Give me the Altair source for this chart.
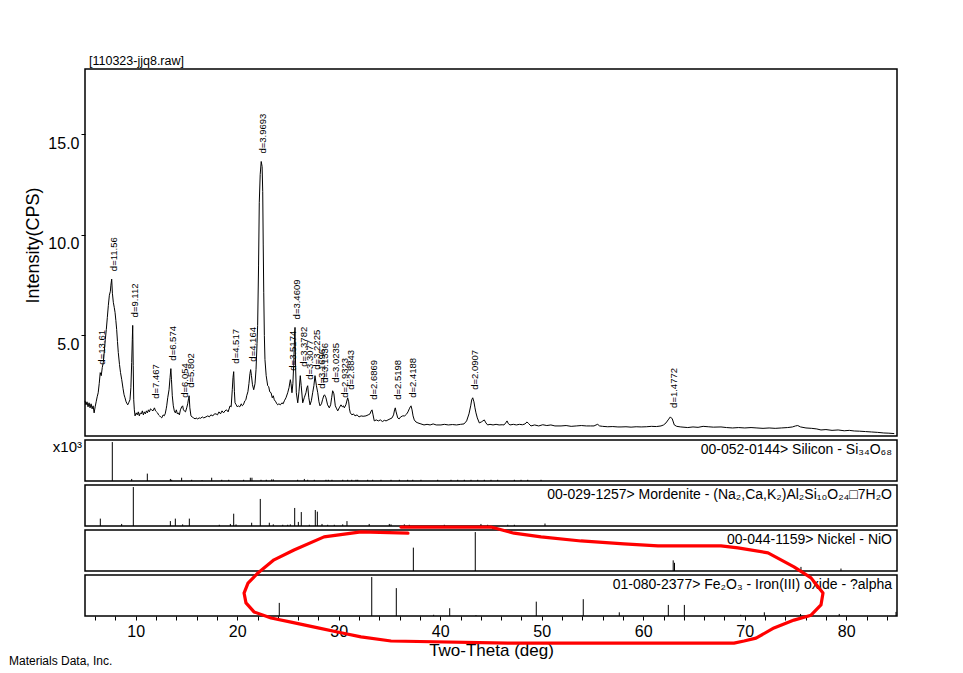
import altair as alt
import pandas as pd

# ---------------- data ----------------
two_theta = [
    5.00, 5.10, 5.20, 5.30, 5.40, 5.50, 5.60, 5.70, 5.80, 5.90, 6.00, 6.10, 6.20, 6.30, 6.40, 6.50,
    6.60, 6.70, 6.80, 6.90, 7.00, 7.10, 7.20, 7.30, 7.40, 7.50, 7.55, 7.63, 7.70, 7.79, 7.88, 7.96,
    8.04, 8.12, 8.20, 8.28, 8.40, 8.50, 8.62, 8.75, 8.85, 8.94, 9.05, 9.15, 9.21, 9.30, 9.43, 9.52,
    9.60, 9.66, 9.70, 9.75, 9.80, 9.86, 9.93, 10.05, 10.15, 10.25, 10.35, 10.45, 10.55, 10.65, 10.75,
    10.85, 10.95, 11.05, 11.15, 11.25, 11.35, 11.45, 11.57, 11.70, 11.84, 11.95, 12.05, 12.15, 12.25,
    12.35, 12.45, 12.56, 12.70, 12.80, 12.90, 13.00, 13.05, 13.15, 13.28, 13.38, 13.46, 13.52, 13.60,
    13.70, 13.80, 13.90, 14.00, 14.10, 14.19, 14.30, 14.40, 14.53, 14.62, 14.70, 14.78, 14.90, 15.02,
    15.12, 15.20, 15.26, 15.33, 15.44, 15.55, 15.70, 15.85, 15.94, 16.10, 16.25, 16.40, 16.55, 16.70,
    16.92, 17.10, 17.25, 17.40, 17.60, 17.75, 17.91, 18.05, 18.20, 18.35, 18.50, 18.65, 18.79, 18.95,
    19.10, 19.29, 19.40, 19.51, 19.58, 19.65, 19.72, 19.78, 19.90, 20.00, 20.10, 20.25, 20.40, 20.50,
    20.60, 20.75, 20.85, 20.93, 21.05, 21.15, 21.25, 21.32, 21.40, 21.50, 21.62, 21.75, 21.85, 21.95,
    22.01, 22.10, 22.17, 22.26, 22.36, 22.45, 22.51, 22.56, 22.61, 22.67, 22.73, 22.85, 23.00, 23.10,
    23.20, 23.33, 23.45, 23.55, 23.65, 23.80, 23.90, 23.99, 24.10, 24.25, 24.40, 24.52, 24.64, 24.80,
    24.97, 25.10, 25.23, 25.30, 25.39, 25.48, 25.56, 25.64, 25.69, 25.75, 25.82, 25.96, 26.08, 26.21,
    26.30, 26.45, 26.60, 26.77, 26.86, 26.94, 27.05, 27.17, 27.30, 27.43, 27.55, 27.66, 27.80, 27.93,
    28.05, 28.15, 28.30, 28.40, 28.52, 28.60, 28.74, 28.90, 29.07, 29.20, 29.30, 29.40, 29.52, 29.66,
    29.80, 29.90, 30.05, 30.22, 30.35, 30.46, 30.55, 30.70, 30.88, 30.98, 31.05, 31.14, 31.30, 31.45,
    31.60, 31.80, 32.00, 32.20, 32.40, 32.68, 32.90, 33.08, 33.20, 33.28, 33.38, 33.50, 33.70, 33.90,
    34.10, 34.30, 34.50, 34.66, 34.85, 35.05, 35.25, 35.40, 35.50, 35.57, 35.65, 35.81, 35.95, 36.10,
    36.30, 36.50, 36.70, 36.82, 36.95, 37.05, 37.12, 37.22, 37.32, 37.44, 37.60, 37.80, 38.10, 38.40,
    38.70, 39.00, 39.30, 39.60, 40.07, 40.40, 40.80, 41.20, 41.60, 42.00, 42.34, 42.60, 42.83, 43.00,
    43.10, 43.20, 43.32, 43.42, 43.52, 43.65, 43.85, 44.05, 44.20, 44.34, 44.50, 44.67, 44.90, 45.20,
    45.50, 45.80, 46.10, 46.28, 46.45, 46.58, 46.70, 46.87, 47.20, 47.50, 47.80, 48.10, 48.35, 48.55,
    48.70, 48.94, 49.30, 49.70, 50.10, 50.50, 50.90, 51.30, 51.90, 52.40, 52.90, 53.40, 53.90, 54.40,
    54.80, 55.15, 55.35, 55.51, 55.70, 56.00, 56.50, 57.00, 57.50, 57.81, 58.30, 58.80, 59.30, 59.80,
    60.30, 60.80, 61.30, 61.75, 62.00, 62.24, 62.45, 62.67, 62.86, 63.06, 63.30, 63.70, 64.38, 64.90,
    65.40, 65.90, 66.40, 66.90, 67.66, 68.20, 68.80, 69.40, 70.00, 70.62, 71.20, 71.80, 72.40, 73.00,
    73.60, 74.23, 74.70, 75.00, 75.22, 75.50, 76.03, 76.60, 77.10, 77.51, 78.00, 78.60, 79.20, 79.80,
    80.30, 80.79, 81.30, 81.90, 82.50, 83.10, 83.70, 84.20, 84.73,
]
intensity = [
    1.75, 1.55, 1.70, 1.45, 1.65, 1.40, 1.60, 1.35, 1.50, 1.15, 1.45, 1.70, 1.95, 2.15, 2.60, 3.15,
    3.00, 3.40, 3.65, 4.20, 4.80, 5.30, 5.90, 6.50, 7.00, 7.20, 7.50, 7.80, 7.10, 6.65, 6.40, 6.15,
    5.75, 5.30, 4.70, 4.15, 3.55, 3.15, 2.80, 2.35, 2.05, 1.90, 1.70, 1.60, 1.55, 1.65, 1.80, 2.40,
    3.65, 4.80, 5.50, 3.50, 1.80, 1.30, 1.00, 1.15, 1.05, 1.20, 1.00, 1.15, 1.10, 1.25, 1.05,
    1.20, 1.10, 1.25, 1.15, 1.30, 1.20, 1.35, 1.30, 1.25, 1.40, 1.25, 1.20, 1.15, 1.05,
    1.00, 0.95, 0.90, 1.05, 1.00, 1.10, 1.35, 1.50, 1.90, 2.30, 2.90, 3.35, 2.80, 2.00,
    1.50, 1.25, 1.15, 1.30, 1.10, 1.15, 1.05, 1.30, 1.45, 1.50, 1.30, 1.25, 1.20, 1.40,
    1.60, 1.85, 2.00, 1.40, 1.00, 0.95, 0.90, 0.85, 0.90, 0.85, 0.90, 0.88, 0.95, 0.90,
    0.95, 1.00, 0.95, 1.05, 1.00, 1.10, 1.10, 1.05, 1.20, 1.10, 1.25, 1.15, 1.25, 1.30,
    1.20, 1.50, 1.45, 2.30, 2.90, 3.20, 2.20, 1.65, 1.55, 1.45, 1.50, 1.45, 1.60, 1.50,
    1.55, 1.75, 1.80, 2.00, 2.20, 2.60, 3.10, 3.30, 3.00, 2.55, 2.30, 2.60, 3.30, 4.60,
    5.50, 8.50, 11.60, 13.00, 13.65, 13.40, 12.15, 9.50, 7.15, 5.00, 3.80, 3.00, 2.50, 2.45,
    2.20, 2.15, 1.90, 2.00, 1.80, 1.70, 1.60, 1.55, 1.60, 1.55, 1.65, 1.60, 1.75, 1.90,
    2.15, 2.40, 2.80, 2.60, 2.15, 2.60, 3.50, 4.80, 5.40, 3.40, 2.15, 1.65, 2.20, 3.00,
    2.50, 1.65, 1.90, 2.15, 2.40, 2.50, 1.90, 1.55, 1.75, 2.15, 2.50, 3.00, 2.50, 2.15,
    1.70, 1.50, 1.60, 1.80, 2.00, 2.05, 1.90, 1.55, 1.40, 1.55, 1.90, 2.25, 2.10, 1.50,
    1.35, 1.25, 1.40, 1.55, 1.45, 1.50, 1.40, 1.55, 1.90, 1.70, 1.35, 1.15, 1.05, 1.10,
    1.00, 1.05, 0.95, 1.00, 0.98, 1.00, 1.05, 1.10, 1.25, 1.30, 1.05, 0.75, 0.80, 0.75,
    0.80, 0.72, 0.78, 0.75, 0.80, 0.85, 0.90, 1.05, 1.30, 1.40, 1.20, 0.90, 0.85, 0.95,
    1.00, 1.00, 1.10, 1.20, 1.35, 1.45, 1.50, 1.30, 1.00, 0.80, 0.70, 0.65, 0.60, 0.55,
    0.58, 0.55, 0.60, 0.55, 0.55, 0.58, 0.55, 0.57, 0.55, 0.58, 0.60, 0.75, 1.10, 1.50,
    1.80, 1.90, 1.70, 1.40, 1.15, 0.90, 0.65, 0.70, 0.75, 0.80, 0.65, 0.55, 0.58, 0.55,
    0.58, 0.55, 0.56, 0.55, 0.65, 0.75, 0.62, 0.55, 0.58, 0.55, 0.58, 0.56, 0.60, 0.70,
    0.62, 0.50, 0.55, 0.50, 0.56, 0.52, 0.55, 0.50, 0.50, 0.52, 0.48, 0.50, 0.52, 0.50,
    0.50, 0.50, 0.55, 0.58, 0.50, 0.48, 0.46, 0.47, 0.45, 0.45, 0.46, 0.44, 0.46, 0.45,
    0.46, 0.48, 0.47, 0.50, 0.55, 0.65, 0.80, 0.95, 0.85, 0.55, 0.48, 0.45, 0.42, 0.45,
    0.43, 0.48, 0.46, 0.44, 0.45, 0.42, 0.40, 0.42, 0.40, 0.42, 0.40, 0.38, 0.40, 0.38,
    0.40, 0.42, 0.45, 0.50, 0.52, 0.45, 0.40, 0.38, 0.35, 0.30, 0.32, 0.28, 0.30, 0.26,
    0.28, 0.25, 0.24, 0.22, 0.20, 0.18, 0.15, 0.14, 0.12,
]

peak_tt = [6.49, 7.64, 9.70, 11.84, 13.46, 14.62, 15.26, 19.64, 21.32, 22.38, 25.30, 25.72, 26.36,
           26.93, 27.66, 28.13, 28.46, 29.52, 30.46, 30.98, 33.32, 35.60, 37.14, 43.24, 62.86]
peak_h = [3.15, 7.8, 5.5, 1.45, 3.35, 1.5, 2.0, 3.2, 3.3, 13.65, 2.85, 5.4, 3.05,
          2.4, 2.9, 1.95, 2.25, 2.25, 1.5, 1.9, 1.4, 1.4, 1.5, 1.9, 1.0]
peak_labels = ["d=13.61", "d=11.56", "d=9.112", "d=7.467", "d=6.574", "d=6.054", "d=5.802",
               "d=4.517", "d=4.164", "d=3.9693", "d=3.5174", "d=3.4609", "d=3.3782",
               "d=3.3077", "d=3.2225", "d=3.1696", "d=3.1336", "d=3.0235", "d=2.9323",
               "d=2.8843", "d=2.6869", "d=2.5198", "d=2.4188", "d=2.0907", "d=1.4772"]

si_tt = [7.69, 9.60, 11.14, 13.41, 13.54, 14.52, 15.51, 16.53, 17.48, 18.47, 19.16, 20.63, 21.29,
         21.45, 22.34, 22.86, 23.39, 23.55, 25.95, 26.61, 26.94, 27.59, 28.74, 28.97, 29.33, 30.39,
         30.88, 31.28, 31.70, 31.87, 32.85, 33.34, 34.16, 35.15, 35.97, 36.79, 37.29, 38.10, 39.75,
         41.06, 41.72, 42.37, 43.03, 43.69, 44.34, 45.00, 45.66, 47.30, 47.96, 48.62, 49.93]
si_rel = [95, 5, 18, 5, 3, 8, 3, 2, 8, 3, 3, 3, 8,
          8, 3, 3, 4, 4, 3, 5, 3, 3, 3, 3, 3, 3,
          3, 3, 3, 3, 3, 3, 3, 3, 3, 3, 3, 3, 3,
          3, 3, 3, 3, 3, 3, 3, 3, 3, 3, 3, 3]

mor_tt = [6.51, 8.61, 9.76, 13.41, 13.90, 14.62, 15.28, 18.23, 19.32, 19.65, 19.88, 21.42, 22.27,
          23.16, 23.55, 24.48, 24.97, 25.23, 25.66, 26.02, 26.31, 27.10, 27.69, 27.89, 28.35, 28.91,
          29.56, 30.39, 30.81, 33.00, 34.98, 35.15, 36.46, 36.95, 40.40, 44.01, 44.67, 46.65, 47.30,
          50.32]
mor_rel = [18, 5, 95, 12, 18, 4, 18, 3, 5, 30, 4, 8, 66,
           8, 4, 3, 3, 4, 44, 10, 34, 3, 39, 35, 5, 3,
           3, 4, 12, 5, 5, 4, 4, 3, 3, 5, 3, 3, 3,
           6]

ni_tt = [37.35, 43.45, 62.95, 63.08, 75.54, 79.48]
ni_rel = [57, 95, 26, 20, 10, 6]

fe_tt = [24.14, 33.25, 35.67, 39.35, 40.93, 43.52, 49.46, 54.09, 57.64, 62.47, 64.05, 69.6, 71.93,
         75.5, 79.31, 84.9]
fe_rel = [32, 95, 68, 3, 19, 2, 35, 41, 9, 27, 27, 3, 9, 5, 5, 10]

# hand-drawn red highlight, in (2-theta, relative intensity of the Fe2O3 strip) units
ring_tt = [36.82, 32.19, 28.55, 25.59, 23.62, 22.04, 21.06, 20.67, 20.86, 21.65, 23.33, 25.30, 27.96,
           30.22, 32.19, 35.15, 46.67, 61.75, 68.94, 69.93, 71.11, 72.88, 74.85, 76.53, 77.51, 77.71,
           76.53, 74.85, 72.29, 69.33, 67.66, 61.45, 58.10, 53.87, 49.93, 47.27, 45.0, 36.13]
ring_rel = [202, 205, 193, 161, 137, 105, 80, 56, 32, 10, -5, -15, -29,
            -41, -51, -61, -66, -66, -66, -61, -54, -29, -10, 2, 27, 56,
            93, 120, 154, 166, 171, 171, 176, 183, 193, 202, 217, 217]

cards = [
    "00-052-0144> Silicon - Si₃₄O₆₈",
    "00-029-1257> Mordenite - (Na₂,Ca,K₂)Al₂Si₁₀O₂₄□7H₂O",
    "00-044-1159> Nickel - NiO",
    "01-080-2377> Fe₂O₃ - Iron(III) oxide - ?alpha",
]
file_title = "[110323-jjq8.raw]"
y_title = "Intensity(CPS)"
x_title = "Two-Theta (deg)"
footer = "Materials Data, Inc."
multiplier = "x10³"
x_tick_values = list(range(6, 86, 2))
y_tick_values = [5, 10, 15]

# ---------------- chart ----------------
FONT = "Liberation Sans"
W = 812
MAIN_H = 367
STRIP_H = 41

xs = alt.Scale(domain=[5, 85], nice=False, zero=False)
ys_main = alt.Scale(domain=[0, 18.25], nice=False, zero=False)
ys_strip = alt.Scale(domain=[0, 100], nice=False, zero=False)

main_df = pd.DataFrame({"tt": two_theta, "cps": intensity})
peaks_df = pd.DataFrame({"tt": peak_tt, "cps": peak_h, "lab": peak_labels})

y_axis = alt.Axis(values=y_tick_values, format=".1f", title=y_title, domain=False, grid=False,
                  tickSize=4, tickColor="black", labelColor="black", labelFont=FONT,
                  labelFontSize=16, labelBaseline="top", labelOffset=1, labelPadding=2,
                  titleFont=FONT, titleFontSize=18, titleFontWeight="normal",
                  titleColor="black", titlePadding=5, titleY=176)
main_x = alt.X("tt:Q", scale=xs, axis=None)
main_y = alt.Y("cps:Q", scale=ys_main, axis=y_axis)

line = alt.Chart(main_df).mark_line(color="black", strokeWidth=1).encode(x=main_x, y=main_y)
peak_text = alt.Chart(peaks_df).mark_text(
    angle=270, align="left", baseline="middle", dx=8, dy=2,
    font=FONT, fontSize=9.5, color="black",
).encode(x=main_x, y=main_y, text="lab:N")
title_text = alt.Chart(pd.DataFrame({"t": [file_title]})).mark_text(
    align="left", baseline="middle", font=FONT, fontSize=12.5, color="black",
).encode(x=alt.value(4), y=alt.value(-8), text="t:N")

main = alt.layer(line, peak_text, title_text).properties(width=W, height=MAIN_H)

x_axis = alt.Axis(values=x_tick_values, format="d", title=x_title, domain=False, grid=False,
                  labelExpr="datum.value % 10 === 0 ? datum.label : ''",
                  tickSize=4, tickColor="black", labelColor="black", labelFont=FONT,
                  labelFontSize=16, labelPadding=3, labelFlush=False,
                  titleFont=FONT, titleFontSize=17, titleFontWeight="normal",
                  titleColor="black", titlePadding=3)


def strip(tt, rel, card, axis=None, extra=None):
    df = pd.DataFrame({"tt": tt, "rel": rel})
    xenc = alt.X("tt:Q", scale=xs, axis=axis)
    yenc = alt.Y("rel:Q", scale=ys_strip, axis=None)
    sticks = alt.Chart(df).mark_rule(color="black", strokeWidth=1).encode(
        x=xenc, y=yenc, y2=alt.datum(0),
    )
    lab = alt.Chart(pd.DataFrame({"t": [card]})).mark_text(
        align="right", baseline="middle", font=FONT, fontSize=14, color="black",
    ).encode(x=alt.value(W - 5), y=alt.value(10), text="t:N")
    layers = [sticks, lab]
    if extra:
        layers += extra(xenc, yenc)
    return alt.layer(*layers).properties(width=W, height=STRIP_H)


def si_extra(xenc, yenc):
    return [alt.Chart(pd.DataFrame({"t": [multiplier]})).mark_text(
        align="right", baseline="middle", font=FONT, fontSize=15, color="black",
    ).encode(x=alt.value(-3), y=alt.value(7), text="t:N")]


def fe_extra(xenc, yenc):
    ring_df = pd.DataFrame({"tt": ring_tt, "rel": ring_rel, "ord": list(range(len(ring_tt)))})
    ring = alt.Chart(ring_df).mark_line(color="#ff0000", strokeWidth=3.2,
                                         strokeJoin="round", strokeCap="round").encode(
        x=xenc, y=yenc, order="ord:Q",
    )
    foot = alt.Chart(pd.DataFrame({"t": [footer]})).mark_text(
        align="left", baseline="middle", font=FONT, fontSize=12, color="black",
    ).encode(x=alt.value(-76), y=alt.value(86), text="t:N")
    return [ring, foot]


si = strip(si_tt, si_rel, cards[0], extra=si_extra)
mor = strip(mor_tt, mor_rel, cards[1])
ni = strip(ni_tt, ni_rel, cards[2])
fe = strip(fe_tt, fe_rel, cards[3], axis=x_axis, extra=fe_extra)

chart = alt.vconcat(main, si, mor, ni, fe, spacing=4, bounds="flush").properties(
    padding={"left": 0, "top": 46, "right": 10, "bottom": 0},
    background="white",
).configure_view(stroke="black", strokeWidth=1.5)

chart.save("out.html", embed_options={"renderer": "svg", "actions": False})
